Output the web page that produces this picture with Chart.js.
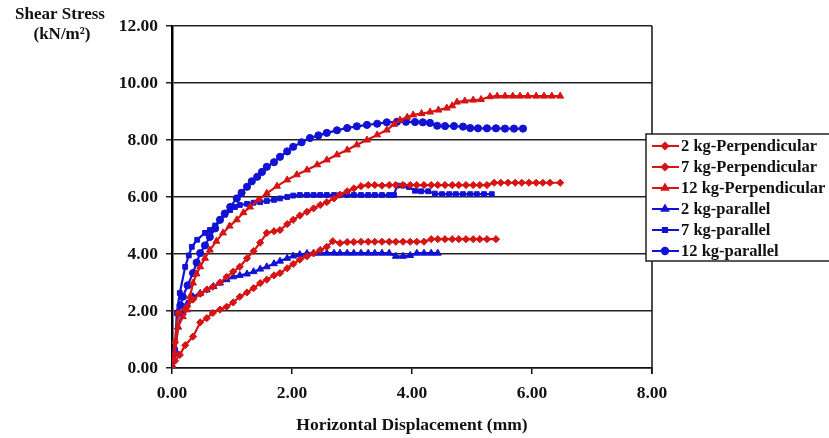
<!DOCTYPE html>
<html>
<head>
<meta charset="utf-8">
<script src="https://cdn.jsdelivr.net/npm/chart.js@4"></script>
<style>
  html, body { margin: 0; padding: 0; background: #ffffff; }
  #wrap { width: 829px; height: 438px; }
</style>
</head>
<body>
<div id="wrap"><canvas id="shearChart" width="829" height="438"></canvas></div>
<script>
// ============================================
// DATA
// [horizontal displacement mm, shear stress kN/m2]
// ============================================

const seriesNames = [
    "2 kg-Perpendicular",
    "7 kg-Perpendicular",
    "12 kg-Perpendicular",
    "2 kg-parallel",
    "7 kg-parallel",
    "12 kg-parallel"
];

const perp2kg = [
    [0,0],[0.05,0.25],[0.13,0.46],[0.22,0.8],[0.35,1.1],[0.47,1.6],[0.58,1.75],[0.68,1.93],
    [0.8,2.05],[0.91,2.15],[1.02,2.3],[1.13,2.5],[1.25,2.65],[1.36,2.8],[1.47,2.98],[1.58,3.1],
    [1.7,3.25],[1.8,3.33],[1.92,3.5],[2.02,3.65],[2.13,3.8],[2.25,3.92],[2.36,4.02],[2.47,4.14],
    [2.58,4.25],[2.68,4.45],[2.8,4.38],[2.92,4.42],[3.03,4.42],[3.15,4.43],[3.27,4.43],[3.38,4.43],
    [3.5,4.43],[3.62,4.43],[3.73,4.43],[3.85,4.43],[3.97,4.43],[4.08,4.43],[4.2,4.43],[4.32,4.52],
    [4.43,4.52],[4.55,4.52],[4.67,4.52],[4.78,4.52],[4.9,4.52],[5.02,4.52],[5.13,4.52],[5.25,4.52],
    [5.4,4.52]
];

const perp7kg = [
    [0,0],[0.05,0.9],[0.1,1.93],[0.25,2.15],[0.35,2.4],[0.47,2.6],[0.58,2.75],[0.68,2.85],
    [0.8,3.0],[0.91,3.2],[1.02,3.38],[1.13,3.55],[1.25,3.85],[1.36,4.1],[1.47,4.4],[1.58,4.74],
    [1.7,4.8],[1.8,4.84],[1.92,5.05],[2.02,5.2],[2.13,5.35],[2.25,5.48],[2.36,5.6],[2.47,5.72],
    [2.58,5.82],[2.7,5.95],[2.8,6.08],[2.92,6.2],[3.03,6.3],[3.15,6.38],[3.27,6.42],[3.38,6.42],
    [3.5,6.4],[3.62,6.42],[3.73,6.42],[3.85,6.42],[3.97,6.42],[4.08,6.42],[4.2,6.42],[4.32,6.42],
    [4.43,6.42],[4.55,6.42],[4.67,6.42],[4.78,6.42],[4.9,6.42],[5.02,6.42],[5.13,6.42],[5.25,6.42],
    [5.37,6.5],[5.48,6.5],[5.6,6.5],[5.72,6.5],[5.83,6.5],[5.95,6.5],[6.07,6.5],[6.18,6.5],
    [6.3,6.5],[6.47,6.5]
];

const perp12kg = [
    [0,0],[0.05,0.53],[0.1,1.44],[0.18,1.8],[0.25,2.04],[0.3,2.5],[0.35,2.98],[0.41,3.3],
    [0.47,3.55],[0.55,3.85],[0.63,4.14],[0.74,4.45],[0.85,4.74],[0.96,4.98],[1.08,5.2],[1.19,5.45],
    [1.3,5.65],[1.44,5.9],[1.58,6.13],[1.75,6.38],[1.92,6.6],[2.08,6.78],[2.25,6.95],[2.42,7.13],
    [2.58,7.3],[2.75,7.48],[2.92,7.65],[3.08,7.83],[3.25,8.0],[3.42,8.18],[3.58,8.35],[3.7,8.55],
    [3.8,8.7],[3.92,8.8],[4.02,8.88],[4.16,8.93],[4.3,8.98],[4.44,9.05],[4.58,9.12],[4.67,9.2],
    [4.75,9.33],[4.88,9.37],[5.02,9.4],[5.15,9.42],[5.3,9.52],[5.42,9.54],[5.55,9.54],[5.68,9.54],
    [5.8,9.54],[5.93,9.54],[6.07,9.54],[6.2,9.54],[6.33,9.54],[6.47,9.54]
];

const par2kg = [
    [0,0],[0.05,0.5],[0.1,1.44],[0.18,1.93],[0.25,2.25],[0.35,2.5],[0.47,2.62],[0.58,2.74],
    [0.69,2.86],[0.8,2.98],[0.91,3.1],[1.02,3.2],[1.13,3.25],[1.25,3.3],[1.36,3.38],[1.47,3.47],
    [1.58,3.55],[1.7,3.66],[1.8,3.75],[1.92,3.85],[2.02,3.93],[2.13,3.98],[2.25,4.02],[2.36,4.03],
    [2.47,4.03],[2.58,4.03],[2.7,4.03],[2.8,4.03],[2.92,4.03],[3.03,4.03],[3.15,4.03],[3.27,4.03],
    [3.38,4.03],[3.5,4.03],[3.62,4.03],[3.73,3.92],[3.85,3.92],[3.97,3.95],[4.08,4.03],[4.2,4.03],
    [4.32,4.03],[4.43,4.03]
];

const par7kg = [
    [0,0],[0.05,0.63],[0.08,1.93],[0.13,2.63],[0.22,3.55],[0.28,3.95],[0.33,4.25],[0.42,4.5],
    [0.55,4.74],[0.63,4.84],[0.72,5.0],[0.8,5.2],[0.88,5.38],[0.97,5.54],[1.05,5.65],[1.13,5.72],
    [1.25,5.76],[1.36,5.8],[1.47,5.82],[1.58,5.86],[1.7,5.9],[1.8,5.95],[1.92,6.0],[2.02,6.05],
    [2.13,6.07],[2.25,6.07],[2.36,6.07],[2.47,6.07],[2.58,6.07],[2.7,6.07],[2.8,6.07],[2.92,6.07],
    [3.03,6.07],[3.15,6.07],[3.27,6.07],[3.38,6.07],[3.5,6.07],[3.62,6.07],[3.7,6.07],[3.75,6.4],
    [3.85,6.4],[3.95,6.35],[4.05,6.22],[4.15,6.2],[4.27,6.2],[4.38,6.12],[4.5,6.1],[4.62,6.1],
    [4.73,6.1],[4.85,6.1],[4.97,6.1],[5.08,6.1],[5.2,6.1],[5.33,6.1]
];

const par12kg = [
    [0,0],[0.05,0.53],[0.1,1.93],[0.14,2.2],[0.18,2.5],[0.26,2.9],[0.35,3.33],[0.41,3.7],
    [0.47,4.03],[0.55,4.3],[0.63,4.6],[0.72,4.9],[0.8,5.2],[0.88,5.42],[0.97,5.65],[1.08,5.95],
    [1.16,6.15],[1.25,6.36],[1.33,6.55],[1.42,6.71],[1.5,6.88],[1.58,7.06],[1.7,7.22],[1.8,7.41],
    [1.92,7.6],[2.02,7.76],[2.16,7.92],[2.3,8.07],[2.44,8.16],[2.58,8.25],[2.75,8.34],[2.92,8.42],
    [3.08,8.48],[3.25,8.53],[3.42,8.57],[3.58,8.62],[3.75,8.64],[3.9,8.64],[4.05,8.63],[4.18,8.62],
    [4.3,8.6],[4.42,8.5],[4.55,8.49],[4.7,8.49],[4.85,8.47],[4.97,8.42],[5.1,8.41],[5.25,8.41],
    [5.4,8.41],[5.55,8.4],[5.7,8.4],[5.85,8.4]
];

const xTickValues = [0, 2, 4, 6, 8];
const yTickValues = [0, 2, 4, 6, 8, 10, 12];

const xTitle = "Horizontal Displacement (mm)";
const yTitleLines = ["Shear Stress", "(kN/m\u00B2)"];

// ============================================
// STYLE
// ============================================

const RED = "#d61414";
const BLUE = "#1212d4";
const SERIF = "'Liberation Serif', 'DejaVu Serif', serif";

const seriesData = [perp2kg, perp7kg, perp12kg, par2kg, par7kg, par12kg];
const seriesColors = [RED, RED, RED, BLUE, BLUE, BLUE];
const seriesMarkers = ["rectRot", "rectRot", "triangle", "triangle", "rect", "circle"];
const seriesRadius = [3.6, 3.6, 4, 4, 3.4, 3.6];

const datasets = seriesNames.map(function (name, i) {
    return {
        label: name,
        data: seriesData[i].map(function (p) { return { x: p[0], y: p[1] }; }),
        showLine: true,
        borderColor: seriesColors[i],
        backgroundColor: seriesColors[i],
        borderWidth: 2.2,
        pointStyle: seriesMarkers[i],
        pointRadius: seriesRadius[i],
        pointBorderWidth: 1,
        tension: 0
    };
});

// ============================================
// FRAME, TITLES AND LEGEND
// ============================================

const framePlugin = {
    id: "frame",
    afterDraw: function (chart) {
        const ctx = chart.ctx;
        const a = chart.chartArea;

        ctx.save();

        // right border of the plot
        ctx.strokeStyle = "#111";
        ctx.lineWidth = 1.5;
        ctx.beginPath();
        ctx.moveTo(a.right, a.top);
        ctx.lineTo(a.right, a.bottom + 6);
        ctx.stroke();

        // axis titles
        ctx.fillStyle = "#111";
        ctx.font = "bold 17px " + SERIF;
        ctx.textAlign = "center";
        ctx.textBaseline = "middle";
        ctx.fillText(yTitleLines[0], 60, 15);
        ctx.fillText(yTitleLines[1], 62, 35);

        ctx.font = "bold 17.5px " + SERIF;
        ctx.fillText(xTitle, (a.left + a.right) / 2, 425);

        // legend box
        const bx = 646, by = 134, bw = 190, bh = 127;
        ctx.fillStyle = "#ffffff";
        ctx.fillRect(bx, by, bw, bh);
        ctx.strokeStyle = "#222";
        ctx.lineWidth = 1.5;
        ctx.strokeRect(bx, by, bw, bh);

        ctx.font = "bold 16.5px " + SERIF;
        ctx.textAlign = "left";
        seriesNames.forEach(function (name, i) {
            const y = 146 + i * 21;
            ctx.strokeStyle = seriesColors[i];
            ctx.fillStyle = seriesColors[i];
            ctx.lineWidth = 2;
            ctx.beginPath();
            ctx.moveTo(652, y);
            ctx.lineTo(679, y);
            ctx.stroke();
            Chart.helpers.drawPoint(ctx, {
                pointStyle: seriesMarkers[i],
                radius: seriesRadius[i] - 0.4,
                borderWidth: 1
            }, 665, y);
            ctx.fillStyle = "#111";
            ctx.fillText(name, 681, y + 1);
        });

        ctx.restore();
    }
};

// ============================================
// CHART
// ============================================

new Chart(
    document.getElementById("shearChart"),
    {
        type: "scatter",

        data: { datasets: datasets },

        options: {
            responsive: false,
            animation: false,

            layout: {
                padding: { top: 26, right: 177, bottom: 0, left: 0 }
            },

            plugins: {
                legend: { display: false },
                tooltip: { enabled: false }
            },

            scales: {
                x: {
                    type: "linear",
                    min: 0,
                    max: 8,
                    afterFit: function (s) { s.height = 70; },
                    afterBuildTicks: function (s) {
                        s.ticks = xTickValues.map(function (v) { return { value: v }; });
                    },
                    ticks: {
                        color: "#111",
                        padding: 9,
                        font: { family: SERIF, size: 17.5, weight: "bold" },
                        callback: function (v) { return Number(v).toFixed(2); }
                    },
                    grid: {
                        drawOnChartArea: false,
                        color: "#111",
                        tickLength: 6,
                        lineWidth: 1.5
                    },
                    border: { color: "#111", width: 1.5 }
                },

                y: {
                    type: "linear",
                    min: 0,
                    max: 12,
                    afterFit: function (s) { s.width = 172; },
                    afterBuildTicks: function (s) {
                        s.ticks = yTickValues.map(function (v) { return { value: v }; });
                    },
                    ticks: {
                        color: "#111",
                        padding: 8,
                        font: { family: SERIF, size: 17.5, weight: "bold" },
                        callback: function (v) { return Number(v).toFixed(2); }
                    },
                    grid: {
                        color: "#222",
                        lineWidth: 1.5,
                        tickLength: 6
                    },
                    border: { color: "#000", width: 2.5 }
                }
            }
        },

        plugins: [framePlugin]
    }
);
</script>
</body>
</html>
